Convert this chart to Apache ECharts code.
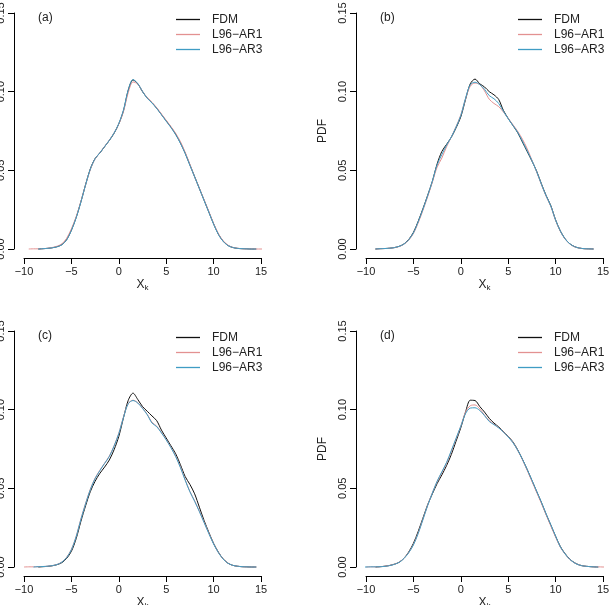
<!DOCTYPE html>
<html>
<head>
<meta charset="utf-8">
<script src="https://cdn.jsdelivr.net/npm/echarts@6/dist/echarts.min.js"></script>
<style>
  html, body { margin: 0; padding: 0; background: #fff; }
  #chart { width: 610px; height: 605px; }
</style>
</head>
<body>
<div id="chart"></div>
<script>
// x grid of the density estimates
const xs = [-10.5, -10, -9.5, -9, -8.5, -8, -7.5, -7, -6.5, -6, -5.5, -5, -4.5, -4, -3.5, -3, -2.5, -2, -1.5, -1, -0.5,
  0, 0.5, 1, 1.5, 2, 2.5, 3, 3.5, 4, 4.5, 5, 5.5, 6, 6.5, 7, 7.5, 8, 8.5, 9, 9.5, 10, 10.5, 11, 11.5, 12, 12.5, 13, 13.5,
  14, 14.5, 15, 15.5];

const seriesNames = ['FDM', 'L96\u2212AR1', 'L96\u2212AR3'];
const yTicks = [0, 0.05, 0.10, 0.15];
const xTicks = [-10, -5, 0, 5, 10, 15];

// panel (a)
const aFDM = [null, null, null, null, 0, 0.0002, 0.0004, 0.0008, 0.0015, 0.0028, 0.006, 0.012, 0.02, 0.03, 0.041, 0.051,
  0.0575, 0.061, 0.065, 0.069, 0.0735, 0.0795, 0.088, 0.101, 0.1075, 0.105, 0.1, 0.096, 0.093, 0.0895, 0.0855, 0.0815,
  0.0775, 0.073, 0.0675, 0.061, 0.0535, 0.046, 0.0385, 0.031, 0.0235, 0.016, 0.0095, 0.005, 0.0023, 0.001, 0.0004,
  0.0002, 0.0001, 0, 0, null, null];
const aAR1 = [null, null, 0, 0.0001, 0.0001, 0.0002, 0.0005, 0.001, 0.0018, 0.0033, 0.0068, 0.0128, 0.0205, 0.0302,
  0.0408, 0.0505, 0.0572, 0.0612, 0.0652, 0.0692, 0.0738, 0.0795, 0.0875, 0.0995, 0.1062, 0.1048, 0.1003, 0.0962,
  0.0932, 0.0898, 0.0858, 0.0818, 0.0778, 0.0735, 0.0682, 0.0615, 0.0538, 0.0458, 0.0385, 0.0312, 0.0238, 0.0162,
  0.0098, 0.0053, 0.0025, 0.0011, 0.0005, 0.0002, 0.0001, 0.0001, 0, 0, 0];
const aAR3 = [null, null, null, null, 0, 0.0002, 0.0004, 0.0008, 0.0014, 0.0027, 0.0058, 0.0118, 0.0198, 0.0298,
  0.0408, 0.0508, 0.0574, 0.0611, 0.0651, 0.0691, 0.0737, 0.0798, 0.0885, 0.1012, 0.1077, 0.1052, 0.1002, 0.0958,
  0.0928, 0.0893, 0.0853, 0.0812, 0.0772, 0.0727, 0.0672, 0.0607, 0.0532, 0.0458, 0.0383, 0.0308, 0.0233, 0.0158,
  0.0093, 0.0049, 0.0022, 0.001, 0.0004, 0.0002, 0.0001, 0, 0, null, null];

// panel (b)
const bFDM = [null, null, null, 0, 0.0002, 0.0003, 0.0005, 0.0009, 0.0017, 0.0032, 0.006, 0.0105, 0.0175, 0.0255,
  0.034, 0.043, 0.054, 0.062, 0.0665, 0.071, 0.077, 0.084, 0.095, 0.105, 0.108, 0.105, 0.103, 0.1, 0.098, 0.095,
  0.088, 0.083, 0.0785, 0.074, 0.068, 0.062, 0.056, 0.0495, 0.0415, 0.034, 0.0275, 0.0185, 0.0115, 0.0065, 0.0033,
  0.0015, 0.0006, 0.0002, 0.0001, 0, null, null, null];
const bAR1 = [null, null, null, 0, 0.0002, 0.0003, 0.0005, 0.0009, 0.0016, 0.003, 0.0056, 0.0098, 0.0165, 0.0245,
  0.0332, 0.0425, 0.052, 0.0578, 0.065, 0.0712, 0.0778, 0.0852, 0.0955, 0.1035, 0.1055, 0.1045, 0.1005, 0.0952,
  0.0925, 0.0905, 0.087, 0.083, 0.079, 0.0748, 0.0698, 0.0638, 0.0565, 0.049, 0.041, 0.0335, 0.027, 0.0182, 0.0112,
  0.0063, 0.0032, 0.0014, 0.0006, 0.0002, 0.0001, 0, null, null, null];
const bAR3 = [null, null, null, 0, 0.0002, 0.0003, 0.0005, 0.0009, 0.0017, 0.0031, 0.0058, 0.0102, 0.0172, 0.0252,
  0.0338, 0.0432, 0.0535, 0.06, 0.066, 0.0712, 0.0775, 0.0848, 0.0958, 0.1045, 0.106, 0.1045, 0.1015, 0.0975,
  0.0955, 0.0925, 0.0875, 0.0828, 0.0785, 0.0742, 0.0685, 0.0625, 0.0562, 0.0492, 0.0412, 0.0338, 0.0272, 0.0184,
  0.0114, 0.0064, 0.0033, 0.0015, 0.0006, 0.0002, 0.0001, 0, null, null, null];

// panel (c)
const cFDM = [null, null, null, null, 0, 0.0002, 0.0004, 0.0008, 0.0015, 0.0028, 0.0055, 0.01, 0.018, 0.029, 0.039,
  0.048, 0.0545, 0.0595, 0.0635, 0.068, 0.0745, 0.083, 0.095, 0.106, 0.1105, 0.1065, 0.102, 0.099, 0.096, 0.093,
  0.087, 0.082, 0.077, 0.072, 0.065, 0.0575, 0.0525, 0.0465, 0.038, 0.0295, 0.022, 0.015, 0.0095, 0.0052, 0.0025,
  0.0011, 0.0005, 0.0002, 0.0001, 0, 0, null, null];
const cAR1 = [null, 0, 0.0001, 0.0001, 0.0002, 0.0003, 0.0005, 0.0009, 0.0017, 0.0032, 0.0062, 0.0112, 0.0195,
  0.0305, 0.0405, 0.0495, 0.0565, 0.0615, 0.066, 0.0705, 0.077, 0.085, 0.0955, 0.104, 0.106, 0.1045, 0.101, 0.097,
  0.092, 0.0895, 0.0855, 0.081, 0.076, 0.0705, 0.0635, 0.0555, 0.048, 0.042, 0.0355, 0.0285, 0.0215, 0.0148, 0.0093,
  0.0052, 0.0025, 0.0011, 0.0005, 0.0002, 0.0001, 0, 0, null, null];
const cAR3 = [null, null, null, 0, 0.0002, 0.0003, 0.0005, 0.0009, 0.0016, 0.0031, 0.006, 0.011, 0.0192, 0.0302,
  0.0402, 0.0492, 0.0562, 0.0612, 0.0658, 0.0702, 0.0768, 0.0848, 0.0952, 0.1038, 0.1058, 0.1042, 0.1008, 0.0968,
  0.0915, 0.0892, 0.0852, 0.0808, 0.0758, 0.0702, 0.0632, 0.0552, 0.0478, 0.0418, 0.0352, 0.0282, 0.0212, 0.0146,
  0.0092, 0.0051, 0.0024, 0.0011, 0.0005, 0.0002, 0.0001, 0, 0, null, null];

// panel (d)
const dFDM = [null, null, null, 0, 0.0002, 0.0005, 0.001, 0.0018, 0.003, 0.0055, 0.0095, 0.015, 0.0225, 0.031,
  0.0395, 0.0465, 0.053, 0.0585, 0.0645, 0.0715, 0.08, 0.0885, 0.0985, 0.106, 0.1058, 0.102, 0.0985, 0.0945, 0.0915,
  0.089, 0.086, 0.083, 0.0795, 0.0745, 0.0685, 0.062, 0.055, 0.048, 0.041, 0.0335, 0.0265, 0.0195, 0.013, 0.0085,
  0.005, 0.0027, 0.0013, 0.0006, 0.0003, 0.0001, 0, null, null];
const dAR1 = [null, 0, 0.0001, 0.0001, 0.0002, 0.0005, 0.001, 0.0018, 0.0031, 0.0056, 0.0092, 0.0142, 0.0215, 0.0302,
  0.0392, 0.0472, 0.0542, 0.06, 0.066, 0.0735, 0.0815, 0.0895, 0.0985, 0.1025, 0.103, 0.1005, 0.0965, 0.093, 0.0908,
  0.0885, 0.0858, 0.0828, 0.0792, 0.0742, 0.0682, 0.0615, 0.0545, 0.0475, 0.0405, 0.0332, 0.026, 0.019, 0.0126,
  0.0082, 0.0048, 0.0026, 0.0013, 0.0006, 0.0003, 0.0001, 0.0001, 0, 0];
const dAR3 = [0, 0, 0.0001, 0.0001, 0.0002, 0.0004, 0.0009, 0.0017, 0.003, 0.0054, 0.009, 0.014, 0.0212, 0.03, 0.039,
  0.047, 0.0545, 0.0605, 0.0665, 0.074, 0.0818, 0.0895, 0.0975, 0.101, 0.1012, 0.0995, 0.0962, 0.0925, 0.0905,
  0.0884, 0.0857, 0.0826, 0.079, 0.0742, 0.0685, 0.062, 0.0552, 0.0482, 0.0412, 0.0338, 0.0268, 0.0196, 0.0128,
  0.0083, 0.0048, 0.0026, 0.0012, 0.0006, 0.0003, 0.0001, 0, null, null];

const colors = ['#111111', '#e39191', '#3f9cc4'];
const font = 'Liberation Sans, Arial, sans-serif';

const panels = [
  {tag: '(a)', left: 24, top: 13, sets: [aFDM, aAR1, aAR3]},
  {tag: '(b)', left: 366, top: 13, sets: [bFDM, bAR1, bAR3]},
  {tag: '(c)', left: 24, top: 331, sets: [cFDM, cAR1, cAR3]},
  {tag: '(d)', left: 366, top: 331, sets: [dFDM, dAR1, dAR3]}
];

const minus = s => String(s).replace('-', '\u2212');

let grids = [], xAxes = [], yAxes = [], series = [], legends = [], titles = [];

panels.forEach((p, i) => {
  grids.push({left: p.left, top: p.top, width: 237, height: 236, containLabel: false, outerBoundsMode: 'none'});

  xAxes.push({
    gridIndex: i, type: 'value', min: xTicks[0], max: xTicks[xTicks.length - 1], interval: 5,
    offset: 9,
    axisLine: {onZero: false, lineStyle: {color: '#000', width: 1}},
    axisTick: {length: 6, lineStyle: {color: '#000'}},
    splitLine: {show: false},
    axisLabel: {fontSize: 11, color: '#222', margin: 8, fontFamily: font, formatter: v => minus(v)},
    name: '{x|X}{k|k}', nameLocation: 'middle', nameGap: 20,
    nameTextStyle: {
      rich: {
        x: {fontSize: 12, color: '#222', fontFamily: font},
        k: {fontSize: 8, color: '#222', fontFamily: font, verticalAlign: 'bottom', padding: [6, 0, 0, 0]}
      }
    }
  });

  yAxes.push({
    gridIndex: i, type: 'value', min: yTicks[0], max: yTicks[yTicks.length - 1], interval: 0.05,
    offset: 10,
    axisLine: {show: true, onZero: false, lineStyle: {color: '#000', width: 1}},
    axisTick: {show: true, length: 6, lineStyle: {color: '#000'}},
    splitLine: {show: false},
    axisLabel: {fontSize: 11, color: '#222', margin: 8, rotate: 90, fontFamily: font, formatter: v => v.toFixed(2)},
    name: 'PDF', nameLocation: 'middle', nameRotate: 90, nameGap: 27,
    nameTextStyle: {fontSize: 12, color: '#222', fontFamily: font}
  });

  p.sets.forEach((vals, k) => {
    series.push({
      name: seriesNames[k], type: 'line', xAxisIndex: i, yAxisIndex: i,
      data: xs.map((x, j) => [x, vals[j] === null ? '-' : vals[j]]),
      showSymbol: false, smooth: 0.3, clip: false,
      color: colors[k],
      lineStyle: {width: 1, color: colors[k]}
    });
  });

  legends.push({
    left: p.left + 152, top: p.top - 1, orient: 'vertical', padding: 0, itemGap: 0,
    icon: 'rect', itemWidth: 24, itemHeight: 1.3,
    textStyle: {fontSize: 12, color: '#222', fontFamily: font, lineHeight: 15, padding: [0, 0, 0, 7]},
    data: seriesNames
  });

  titles.push({
    text: p.tag, left: p.left + 14, top: p.top - 1, padding: 0,
    textStyle: {fontSize: 12, fontWeight: 'normal', color: '#222', fontFamily: font}
  });
});

const chart = echarts.init(document.getElementById('chart'));
chart.setOption({
  animation: false,
  backgroundColor: '#fff',
  textStyle: {fontFamily: font},
  title: titles,
  legend: legends,
  grid: grids,
  xAxis: xAxes,
  yAxis: yAxes,
  series: series
});
</script>
</body>
</html>
